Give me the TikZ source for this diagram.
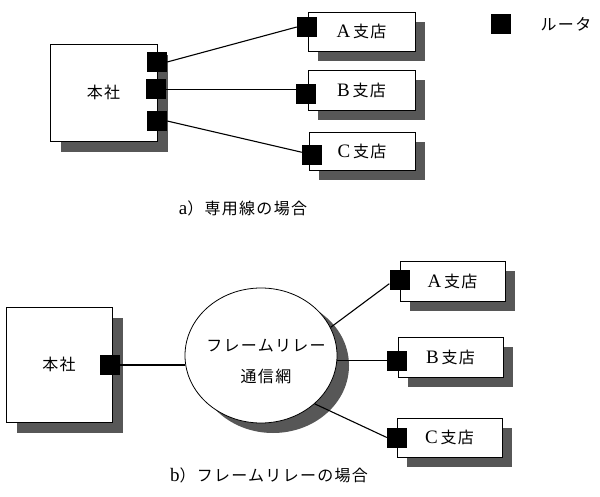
\documentclass[tikz,border=0pt]{standalone}
\usepackage{fontspec}
\setmainfont{Liberation Serif}
\newfontfamily\jp[LetterSpace=8]{Noto Sans CJK JP}
\newcommand\lat{\fontsize{19}{20}\selectfont}
\usetikzlibrary{shadows,shapes.geometric,calc}
\begin{document}
\begin{tikzpicture}[x=1pt,y=-1pt,
  txt/.style={font=\fontsize{16}{19}\selectfont, inner sep=0pt},
  office/.style={txt, draw=black, line width=0.8pt, fill=white,
    drop shadow={shadow xshift=11pt, shadow yshift=-11pt, fill=black!66, opacity=1}},
  branch/.style={txt, draw=black, line width=0.8pt, fill=white,
    drop shadow={shadow xshift=10pt, shadow yshift=-10pt, fill=black!66, opacity=1}},
  netw/.style={ellipse, draw=black, line width=0.8pt, fill=white, inner sep=0pt,
    minimum width=152, minimum height=135,
    drop shadow={shadow xshift=12pt, shadow yshift=-10pt, fill=black!66, opacity=1}},
  router/.style={fill=black, draw=none, minimum size=20, inner sep=0pt},
  link/.style={draw=black, line width=1.1pt}]
\useasboundingbox (0,0) rectangle (600,497);

% ---------- a) leased lines ----------
\node[office, minimum width=107, minimum height=97] (hqa) at (103.5,92.5) {\jp 本社};
\node[branch, minimum width=107, minimum height=39] (ba) at (361.5,31.5) {{\lat A}\,\jp 支店};
\node[branch, minimum width=107, minimum height=40] (bb) at (361.5,90) {{\lat B}\,\jp 支店};
\node[branch, minimum width=106, minimum height=38] (bc) at (362,151) {{\lat C}\,\jp 支店};

\node[router] (r1) at (157,62) {};
\node[router] (r2) at (155.5,89.5) {};
\node[router] (r3) at (157,121) {};
\node[router] (ra) at (307,27) {};
\node[router] (rb) at (306,94) {};
\node[router] (rc) at (312,155) {};

\draw[link] (r1.east) -- (ra.west);
\draw[link] (r2.east) -- (r2.east -| rb.west);
\draw[link] (r3.east) -- (rc.165);

% legend
\node[router] (lg) at (500.5,24) {};
\node[txt] (lgt) at (566,24) {\jp ルータ};

\node[txt] (capa) at (243,208) {{\lat a}\jp）専用線の場合};

% ---------- b) frame relay ----------
\node[office, minimum width=106, minimum height=115] (hqb) at (59,364.5) {\jp 本社};
\node[netw] (net) at (261,355.5) {};
\node[txt, align=center] (nett) at (266,362) {\jp フレームリレー\\[12pt]\jp 通信網};

\node[branch, minimum width=105, minimum height=40] (fa) at (452.5,281) {{\lat A}\,\jp 支店};
\node[branch, minimum width=105, minimum height=40] (fb) at (450.5,357) {{\lat B}\,\jp 支店};
\node[branch, minimum width=105, minimum height=39] (fc) at (449.5,437.5) {{\lat C}\,\jp 支店};

\node[router] (rh) at (109.5,365) {};
\node[router] (sa) at (399.5,280) {};
\node[router] (sb) at (397,360.5) {};
\node[router] (sc) at (397,437.5) {};

\draw[link] (rh.east) -- (rh.east -| net.west);
\draw[link] (net.22) -- (sa.200);
\draw[link] (net.east |- sb.west) -- (sb.west);
\draw[link] (net.-42) -- (sc.west);

\node[txt] (capb) at (269,475) {{\lat b}\jp）フレームリレーの場合};
\end{tikzpicture}
\end{document}
